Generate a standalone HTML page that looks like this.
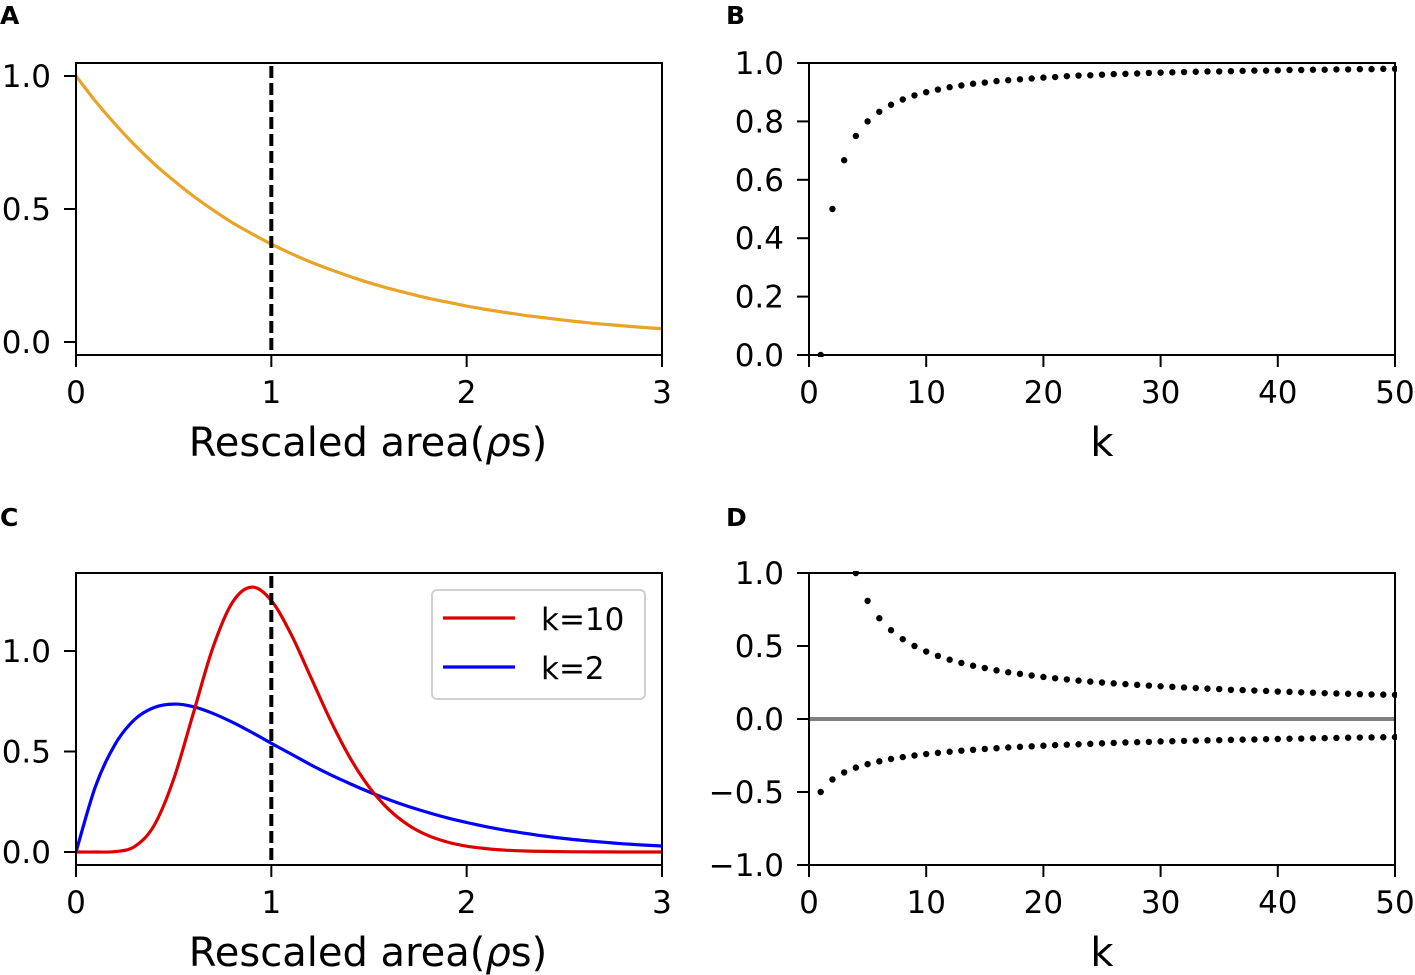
<!DOCTYPE html>
<html><head><meta charset="utf-8"><style>
body{margin:0;background:#fff}
svg{display:block;font-family:"DejaVu Sans","Liberation Sans",sans-serif}
</style></head><body>
<svg id="fig" width="1415" height="975" viewBox="0 0 1415 975" xmlns="http://www.w3.org/2000/svg">
<defs>
<clipPath id="clipA"><rect x="76" y="63" width="586" height="292"/></clipPath>
<clipPath id="clipB"><rect x="806" y="61" width="591" height="296"/></clipPath>
<clipPath id="clipC"><rect x="76" y="573" width="586" height="292"/></clipPath>
<clipPath id="clipD"><rect x="806" y="571" width="591" height="296"/></clipPath>
</defs>
<g id="root"></g>
</svg>
<script>
// Panel A: exp decay sampled every 0.1
const xsCurve = [0,0.1,0.2,0.3,0.4,0.5,0.6,0.7,0.8,0.9,1,1.1,1.2,1.3,1.4,1.5,1.6,1.7,1.8,1.9,2,2.1,2.2,2.3,2.4,2.5,2.6,2.7,2.8,2.9,3];
const aValues = [1,.905,.819,.741,.670,.607,.549,.497,.449,.407,.368,.333,.301,.273,.247,.223,.202,.183,.165,.150,.135,.122,.111,.100,.091,.082,.074,.067,.061,.055,.050];
// Panel B
const bValues = [0,.5,.667,.75,.8,.833,.857,.875,.889,.9,.909,.917,.923,.929,.933,.938,.941,.944,.947,.95,.952,.955,.957,.958,.96,.962,.963,.964,.966,.967,.968,.969,.970,.971,.971,.972,.973,.974,.974,.975,.976,.976,.977,.977,.978,.978,.979,.979,.980,.98];
// Panel C
const k2Values = [0,.327,.536,.659,.719,.736,.723,.690,.646,.595,.541,.488,.435,.386,.341,.299,.261,.227,.197,.170,.147,.126,.108,.093,.079,.067,.057,.049,.041,.035,.030];
const k10Values = [0,0,.002,.027,.132,.363,.688,1.014,1.241,1.318,1.251,1.085,.874,.661,.473,.324,.213,.135,.083,.050,.029,.017,.009,.005,.003,.0015,.0008,.0004,.0002,.0001,0];
// Panel D
const dUpper = [null,2.414,1.366,1,.809,.690,.608,.547,.5,.462,.432,.406,.384,.365,.349,.333,.320,.309,.298,.288,.279,.271,.263,.256,.25,.244,.239,.234,.229,.224,.220,.216,.212,.208,.205,.2,.198,.195,.192,.188,.186,.183,.180,.177,.175,.173,.170,.168,.167,.165];
const dLower = [-.5,-.414,-.366,-.333,-.309,-.290,-.274,-.261,-.25,-.240,-.232,-.224,-.217,-.211,-.205,-.2,-.195,-.191,-.187,-.183,-.179,-.176,-.173,-.170,-.167,-.164,-.161,-.159,-.157,-.154,-.152,-.150,-.148,-.146,-.145,-.143,-.141,-.140,-.138,-.137,-.135,-.134,-.132,-.131,-.130,-.128,-.127,-.126,-.125,-.124];
const ticksRho = ["0","1","2","3"];
const ticksK = ["0","10","20","30","40","50"];
const ticksA = ["0.0","0.5","1.0"];
const ticksB = ["0.0","0.2","0.4","0.6","0.8","1.0"];
const ticksC = ["0.0","0.5","1.0"];
const ticksD = ["\u22121.0","\u22120.5","0.0","0.5","1.0"];

const NS="http://www.w3.org/2000/svg";
const root=document.getElementById('root');
function mk(tag,attrs,parent,text){const e=document.createElementNS(NS,tag);for(const k in attrs)e.setAttribute(k,attrs[k]);if(text!==undefined)e.textContent=text;(parent||root).appendChild(e);return e;}
function lin(d0,d1,r0,r1){return v=>r0+(v-d0)*(r1-r0)/(d1-d0);}

const axA={x:lin(0,3,76,662),y:lin(0,1,342,76)};
const axB={x:lin(0,50,809,1395),y:lin(0,1,355,63)};
const axC={x:lin(0,3,76,662),y:lin(0,1,852,651)};
const axD={x:lin(0,50,809,1395),y:lin(-1,1,865,573)};
const TF=31;

function frame(name,x0,y0,x1,y1){
  const r=mk('rect',{x:x0,y:y0,width:x1-x0,height:y1-y0,fill:'none',stroke:'#000','stroke-width':2});
  
  
}
function xticks(name,ax,vals,labels,yb){
  labels.forEach((l,i)=>{const x=ax.x(vals[i]);
    const t=mk('line',{x1:x,x2:x,y1:yb,y2:yb+12,stroke:'#000','stroke-width':2});
    
    
    const tx=mk('text',{x:x,y:yb+48,'text-anchor':'middle','font-size':TF},null,l);
    
    
  });
}
function yticks(name,ax,xl,vals,labels){
  labels.forEach((l,i)=>{const y=ax.y(vals[i]);
    const t=mk('line',{x1:xl-12,x2:xl,y1:y,y2:y,stroke:'#000','stroke-width':2});
    
    
    const tx=mk('text',{x:xl-25,y:y+11,'text-anchor':'end','font-size':TF},null,l);
    
    
  });
}
function title(name,txt,x,y){
  const t=mk('text',{x:x,y:y,'font-size':25,'font-weight':'bold'},null,txt);
  
  
}
function xtitle(name,x,y,html){
  const t=mk('text',{x:x,y:y,'text-anchor':'middle','font-size':40},null,'');
  t.innerHTML=html;
  
  
}
function curve(name,ax,xs,ys,color,clip){
  const P=xs.map((x,i)=>[ax.x(x),ax.y(ys[i])]);
  let d='M'+P[0][0].toFixed(1)+','+P[0][1].toFixed(1);
  for(let i=0;i<P.length-1;i++){
    const p0=P[Math.max(0,i-1)],p1=P[i],p2=P[i+1],p3=P[Math.min(P.length-1,i+2)];
    const c1=[p1[0]+(p2[0]-p0[0])/6,p1[1]+(p2[1]-p0[1])/6];
    const c2=[p2[0]-(p3[0]-p1[0])/6,p2[1]-(p3[1]-p1[1])/6];
    d+=' C'+c1[0].toFixed(1)+','+c1[1].toFixed(1)+' '+c2[0].toFixed(1)+','+c2[1].toFixed(1)+' '+p2[0].toFixed(1)+','+p2[1].toFixed(1);
  }
  const p=mk('path',{d:d,fill:'none',stroke:color,'stroke-width':3.2,'stroke-linejoin':'round','clip-path':'url(#'+clip+')'});
  
  
}
function dots(name,ax,vals,clip){
  const g=mk('g',{'clip-path':'url(#'+clip+')'});
  
  
  vals.forEach((v,i)=>{if(v===null)return;
    const c=mk('circle',{cx:ax.x(i+1),cy:ax.y(v),r:3.2,fill:'#000'},g);
    
    
  });
}
function vdash(name,ax,x,y0,y1){
  const l=mk('line',{x1:ax.x(x),x2:ax.x(x),y1:y0,y2:y1,stroke:'#000','stroke-width':4,'stroke-dasharray':'12,5'});
  
  
}
const rhoTitle='Rescaled area(<tspan font-style="italic">ρ</tspan>s)';

// Panel A
title('a','A',0,24);
curve('exp-curve',axA,xsCurve,aValues,'#e8a428','clipA');
vdash('a-dashed-line',axA,1,66,355);
frame('a',76,63,662,355);
xticks('a',axA,[0,1,2,3],ticksRho,355);
yticks('a',axA,76,[0,0.5,1],ticksA);
xtitle('a',368,456,rhoTitle);

// Panel B
title('b','B',726,24);
dots('b-points',axB,bValues,'clipB');
frame('b',809,63,1395,355);
xticks('b',axB,[0,10,20,30,40,50],ticksK,355);
yticks('b',axB,809,[0,.2,.4,.6,.8,1],ticksB);
xtitle('b',1102,456,'k');

// Panel C
title('c','C',0,526);
curve('k2-curve',axC,xsCurve,k2Values,'#0000ff','clipC');
curve('k10-curve',axC,xsCurve,k10Values,'#dd0000','clipC');
vdash('c-dashed-line',axC,1,576,865);
frame('c',76,573,662,865);
xticks('c',axC,[0,1,2,3],ticksRho,865);
yticks('c',axC,76,[0,0.5,1],ticksC);
xtitle('c',368,966,rhoTitle);
const lg=mk('g',{});


mk('rect',{x:432,y:590,width:213,height:109,rx:5,fill:'#fff','fill-opacity':0.8,stroke:'#d0d0d0','stroke-width':2},lg);
const le1=mk('line',{x1:443,x2:515,y1:618,y2:618,stroke:'#dd0000','stroke-width':3.2},lg);


mk('text',{x:541,y:630,'font-size':31},lg,'k=10');
const le2=mk('line',{x1:443,x2:515,y1:667,y2:667,stroke:'#0000ff','stroke-width':3.2},lg);


mk('text',{x:541,y:679,'font-size':31},lg,'k=2');

// Panel D
title('d','D',726,526);
const zl=mk('line',{x1:809,x2:1395,y1:axD.y(0),y2:axD.y(0),stroke:'#808080','stroke-width':4});


dots('d-upper-points',axD,dUpper,'clipD');
dots('d-lower-points',axD,dLower,'clipD');
frame('d',809,573,1395,865);
xticks('d',axD,[0,10,20,30,40,50],ticksK,865);
yticks('d',axD,809,[-1,-.5,0,.5,1],ticksD);
xtitle('d',1102,966,'k');
</script>
</body></html>
